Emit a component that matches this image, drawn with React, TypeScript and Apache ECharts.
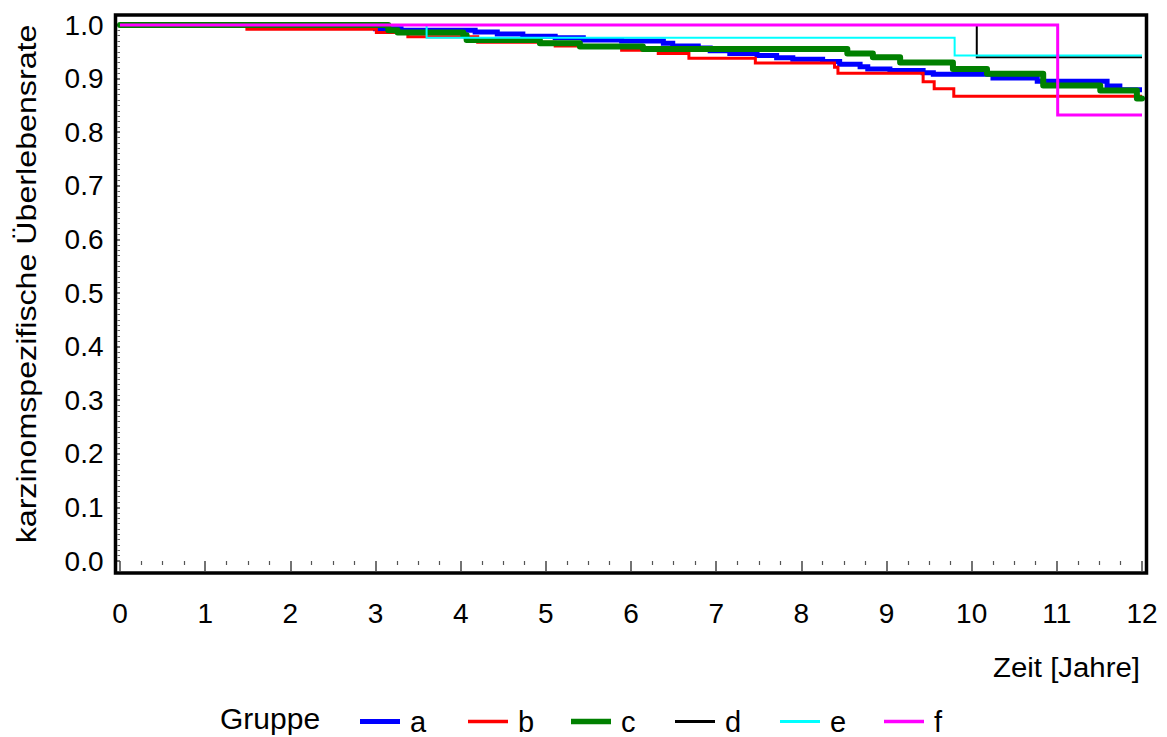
import React, { useEffect, useRef } from "react";
import * as echarts from "echarts";

// Kaplan-Meier step points per group: time in years, survival rate after the step
const timeA = [0, 2.0, 3.0, 3.3, 4.17, 4.43, 4.73, 5.11, 5.44, 5.89, 6.38, 6.49, 6.79, 6.93, 7.16, 7.48, 7.71, 7.9, 8.25, 8.45, 8.69, 8.78, 9.04, 9.43, 9.55, 10.25, 10.77, 11.59, 11.74, 12.0];
const survA = [1.0, 0.997, 0.993, 0.99, 0.987, 0.983, 0.979, 0.976, 0.972, 0.97, 0.966, 0.961, 0.957, 0.952, 0.947, 0.943, 0.939, 0.936, 0.932, 0.927, 0.922, 0.918, 0.915, 0.911, 0.908, 0.901, 0.895, 0.886, 0.879, 0.879];

const timeB = [0, 1.49, 3.01, 3.38, 4.2, 5.11, 5.89, 6.32, 6.68, 7.46, 8.39, 8.43, 9.43, 9.56, 9.79, 12.0];
const survB = [1.0, 0.992, 0.986, 0.978, 0.968, 0.961, 0.953, 0.947, 0.938, 0.929, 0.921, 0.91, 0.894, 0.881, 0.867, 0.867];

const timeC = [0, 3.15, 3.26, 4.03, 4.07, 4.93, 5.4, 6.14, 8.54, 8.84, 9.16, 9.78, 10.18, 10.84, 11.51, 11.94, 12.0];
const survC = [1.0, 0.99, 0.986, 0.981, 0.972, 0.966, 0.96, 0.955, 0.947, 0.94, 0.93, 0.918, 0.909, 0.887, 0.878, 0.863, 0.863];

const timeD = [0, 10.06, 12.0];
const survD = [1.0, 0.94, 0.94];

const timeE = [0, 3.6, 9.8, 12.0];
const survE = [1.0, 0.976, 0.943, 0.943];

const timeF = [0, 11.01, 12.0];
const survF = [1.0, 0.832, 0.832];

const groupNames = ["a", "b", "c", "d", "e", "f"];
const groupColors = ["#0000ff", "#ff0000", "#008000", "#000000", "#00ffff", "#ff00ff"];
const groupWidths = [5, 3, 6, 2, 2, 3];
const legendThickness = [5, 3.5, 5.5, 3, 3, 3.5];
const legendLeft = [355, 463, 566, 670, 775, 879];
const groupTimes = [timeA, timeB, timeC, timeD, timeE, timeF];
const groupSurv = [survA, survB, survC, survD, survE, survF];

const xTitle = "Zeit [Jahre]";
const yTitle = "karzinomspezifische Überlebensrate";
const legendTitle = "Gruppe";

const FONT = "'Liberation Sans', Arial, sans-serif";

export default function App() {
  const ref = useRef<HTMLDivElement>(null);

  useEffect(() => {
    if (!ref.current) return;
    const chart = echarts.init(ref.current, undefined, { renderer: "svg" });

    const series = groupNames.map((name, i) => ({
      name,
      type: "line",
      step: "end",
      showSymbol: false,
      symbol: "none",
      clip: false,
      data: groupTimes[i].map((t, k) => [t, groupSurv[i][k]]),
      lineStyle: {
        color: groupColors[i],
        width: groupWidths[i],
        cap: i === 2 ? "round" : "butt",
        join: i === 2 ? "round" : "miter",
      },
      itemStyle: { color: groupColors[i] },
      z: 2 + i,
    }));

    // one legend per group so each swatch keeps its own thickness and place
    const legends = groupNames.map((name, i) => ({
      left: legendLeft[i],
      top: 702,
      icon: "rect",
      itemWidth: 40,
      itemHeight: legendThickness[i],
      data: [name],
      selectedMode: false,
      textStyle: { fontSize: 29, color: "#000", fontFamily: FONT, padding: [0, 0, 0, 5] },
    }));

    chart.setOption({
      animation: false,
      backgroundColor: "#ffffff",
      grid: { left: 120, right: 25, top: 25, bottom: 176 },
      xAxis: {
        type: "value",
        min: 0,
        max: 12,
        interval: 1,
        offset: 12,
        axisLine: { show: false },
        axisTick: { show: true, length: 10, lineStyle: { color: "#444", width: 1.5 } },
        minorTick: { show: true, splitNumber: 4, length: 4, lineStyle: { color: "#555", width: 1.2 } },
        splitLine: { show: false },
        axisLabel: { fontSize: 28, color: "#000", fontFamily: FONT, margin: 26 },
      },
      yAxis: {
        type: "value",
        min: 0,
        max: 1,
        interval: 0.1,
        offset: 4.5,
        axisLine: { show: false },
        axisTick: { show: true, length: 6, lineStyle: { color: "#444", width: 1.5 } },
        minorTick: { show: true, splitNumber: 10, length: 2.5, lineStyle: { color: "#666", width: 1 } },
        splitLine: { show: false },
        axisLabel: {
          fontSize: 28,
          color: "#000",
          fontFamily: FONT,
          margin: 12,
          formatter: (v: number) => v.toFixed(1),
        },
      },
      legend: legends,
      graphic: [
        {
          type: "rect",
          shape: { x: 115.5, y: 15, width: 1031, height: 558 },
          style: { fill: "none", stroke: "#000", lineWidth: 3.5 },
          z: 100,
          silent: true,
        },
        {
          type: "text",
          x: 1140,
          y: 667,
          scaleX: 1.05,
          style: {
            text: xTitle,
            fontSize: 28,
            fontFamily: FONT,
            fill: "#000",
            textAlign: "right",
            textVerticalAlign: "middle",
          },
        },
        {
          type: "text",
          x: 26,
          y: 284,
          rotation: Math.PI / 2,
          scaleX: 1.15,
          style: {
            text: yTitle,
            fontSize: 28,
            fontFamily: FONT,
            fill: "#000",
            textAlign: "center",
            textVerticalAlign: "middle",
          },
        },
        {
          type: "text",
          x: 220,
          y: 719,
          scaleX: 1.035,
          style: {
            text: legendTitle,
            fontSize: 29,
            fontFamily: FONT,
            fill: "#000",
            textAlign: "left",
            textVerticalAlign: "middle",
          },
        },
      ],
      series,
    });

    return () => chart.dispose();
  }, []);

  return (
    <div
      ref={ref}
      style={{ position: "fixed", left: 0, top: 0, width: 1167, height: 737, background: "#fff" }}
    />
  );
}
